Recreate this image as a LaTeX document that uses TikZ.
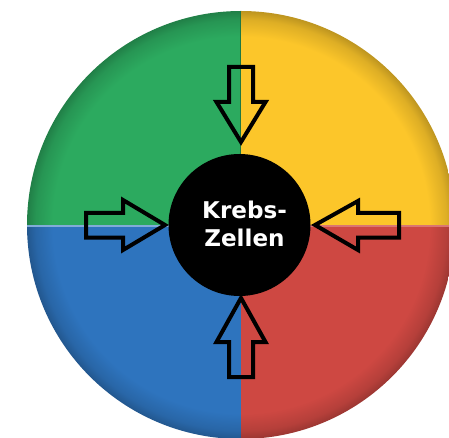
\documentclass[tikz,border=0pt]{standalone}
\usepackage{fontspec}
\newfontfamily\labelfont{DejaVu Sans}
\definecolor{qgreen}{RGB}{44,170,95}
\definecolor{qyellow}{RGB}{252,198,42}
\definecolor{qblue}{RGB}{46,116,190}
\definecolor{qred}{RGB}{206,72,66}
\colorlet{base}{qgreen}
\pgfdeclareradialshading[base]{rim}{\pgfpoint{0bp}{0bp}}{%
  color(0bp)=(base); color(22bp)=(base); color(24bp)=(base!88!black);
  color(25bp)=(base!75!black); color(50bp)=(base!75!black)}
\tikzset{
  arrowline/.style={draw=black, line width=3pt, line join=miter, fill=none},
  core/.style={circle, fill=black, minimum size=106.5pt, inner sep=0pt},
  label/.style={text=white, font=\labelfont\bfseries\fontsize{17.3}{20.5}\selectfont, align=center}
}
\begin{document}
\begin{tikzpicture}[x=0.75pt, y=-0.75pt]
\useasboundingbox (0,0) rectangle (449,438);
\clip (0,0) rectangle (449,438);
\coordinate (c) at (241,225);
% quadrants (y axis points down, so angles run clockwise)
\foreach \col/\a/\b in {qgreen/180/270, qyellow/270/360, qblue/90/180, qred/0/90}{
  \begin{scope}
    \colorlet{base}{\col}
    \clip (c) -- ++(\a:214) arc[start angle=\a, end angle=\b, radius=214] -- cycle;
    \shade[shading=rim] (c) circle[radius=214];
  \end{scope}
}
% seam highlights
\draw[qblue!60!white, line width=1.2pt] (27,226) -- (241,226);
\draw[qred!75!white, line width=0.8pt] (241,226) -- (455,226);
\draw[qgreen!70!black, line width=0.8pt] (240.5,11) -- (240.5,225);
% centre
\node[core] (core) at (239.5,225) {};
\node[label] (txt) at (244.5,224) {Krebs-\\Zellen};
% arrows
\draw[arrowline] (241,142) -- (216.5,102) -- (229,102) -- (229,67) -- (253,67) -- (253,102) -- (265.5,102) -- cycle;
\draw[arrowline] (241,298) -- (216.5,342) -- (229,342) -- (229,377) -- (253,377) -- (253,342) -- (265.5,342) -- cycle;
\draw[arrowline] (165,225) -- (123,200) -- (123,213) -- (86,213) -- (86,237.5) -- (123,237.5) -- (123,250) -- cycle;
\draw[arrowline] (315,225) -- (358,201) -- (358,213) -- (399,213) -- (399,237.5) -- (358,237.5) -- (358,250) -- cycle;
\end{tikzpicture}
\end{document}
